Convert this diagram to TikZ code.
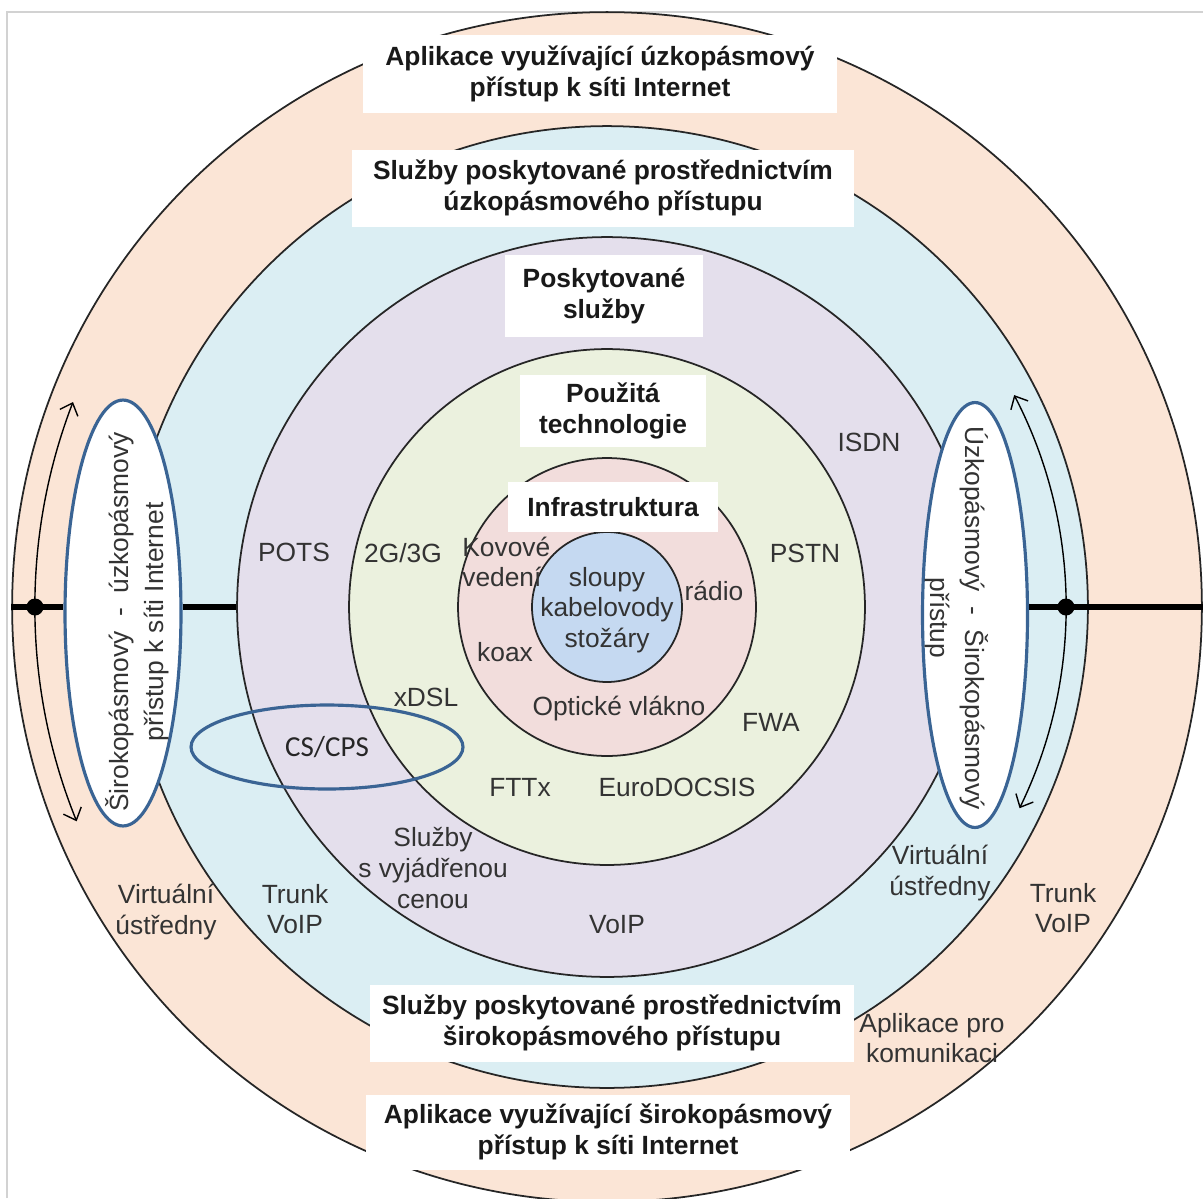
\documentclass[tikz,border=0pt]{standalone}
\usepackage{fontspec}
\setmainfont{Liberation Sans}
\newfontfamily\calibrifont{Carlito}
\usetikzlibrary{arrows.meta,shapes.geometric,positioning}

\definecolor{aplikace}{RGB}{251,229,214}
\definecolor{sluzby}{RGB}{219,238,243}
\definecolor{poskytovane}{RGB}{228,223,236}
\definecolor{technologie}{RGB}{235,241,222}
\definecolor{infra}{RGB}{242,221,220}
\definecolor{jadro}{RGB}{197,217,241}
\definecolor{okraj}{RGB}{58,100,148}

\begin{document}
\begin{tikzpicture}[
    x=0.02cm, y=-0.02cm,
    ring/.style={circle, draw=black!85, line width=1pt, inner sep=0pt},
    titulek/.style={rectangle, fill=white, inner sep=0pt, align=center, text=black!90, font=\bfseries\fontsize{15}{18}\selectfont},
    popis/.style={inner sep=0pt, align=center, text=black!80, font=\fontsize{15}{17.5}\selectfont},
    obal/.style={ellipse, draw=okraj, line width=1.8pt, inner sep=0pt},
    spoj/.style={line width=3pt},
    tecka/.style={circle, fill=black, inner sep=0pt, minimum size=0.34cm},
    sipka/.style={{Straight Barb[length=6pt,width=11pt]}-{Straight Barb[length=6pt,width=11pt]}, line width=0.8pt}
]
\useasboundingbox (0,0) rectangle (1203,1198);
\clip (0,0) rectangle (1203,1198);
\fill[white] (0,0) rectangle (1203,1198);
\draw[gray!35, line width=0.6pt] (7,1198) -- (7,12) -- (1203,12);

\coordinate (c) at (607,607);

% Kruhy
\node[ring, fill=aplikace, minimum size=23.8cm] (apl) at (c) {};
\node[ring, fill=sluzby, minimum size=19.24cm] (sluz) at (c) {};
\node[ring, fill=poskytovane, minimum size=14.8cm] (posk) at (c) {};
\node[ring, fill=technologie, minimum size=10.32cm] (tech) at (c) {};
\node[ring, fill=infra, minimum size=5.96cm] (infra) at (c) {};
\node[ring, fill=jadro, minimum size=3cm] (jadro) at (c) {};

% Titulky
\node[titulek, minimum width=9.5cm, minimum height=1.56cm] (t1) at (600,74) {Aplikace využívající úzkopásmový\\přístup k síti Internet};
\node[titulek, minimum width=10.06cm, minimum height=1.54cm] (t2) at (603,188) {Služby poskytované prostřednictvím\\úzkopásmového přístupu};
\node[titulek, minimum width=3.96cm, minimum height=1.64cm] (t3) at (604,296) {Poskytované\\služby};
\node[titulek, minimum width=3.74cm, minimum height=1.44cm] (t4) at (613,411) {Použitá\\technologie};
\node[titulek, minimum width=4.2cm, minimum height=1cm] (t5) at (613,507) {Infrastruktura};
\node[titulek, minimum width=9.7cm, minimum height=1.54cm] (t6) at (612,1023) {Služby poskytované prostřednictvím\\širokopásmového přístupu};
\node[titulek, minimum width=9.68cm, minimum height=1.5cm] (t7) at (608,1132) {Aplikace využívající širokopásmový\\přístup k síti Internet};

% Elipsy
\node[obal, fill=white, minimum width=2.32cm, minimum height=8.52cm] (lobal) at (123,613) {};
\node[obal, fill=white, minimum width=2.1cm, minimum height=8.5cm] (pobal) at (975,615) {};
\node[popis, rotate=90, font=\fontsize{15}{20}\selectfont] (ltext) at (137,622) {Širokopásmový~ - ~úzkopásmový\\přístup k síti Internet};
\node[popis, rotate=-90, font=\fontsize{15}{20}\selectfont] (ptext) at (957,618) {Úzkopásmový~ - ~Širokopásmový\\přístup};
\node[obal, minimum width=5.44cm, minimum height=1.68cm, text=black!85, font=\calibrifont\fontsize{16.5}{19}\selectfont] (cs) at (327,747) {CS/CPS};

% Spojnice
\draw[spoj] (apl.west) -- (apl.west -| lobal.west);
\draw[spoj] (apl.west -| lobal.east) -- (posk.west);
\draw[spoj] (pobal.east |- apl.east) -- (apl.east);
\node[tecka] (ltecka) at (35,607) {};
\node[tecka] (ptecka) at (1066,607) {};
\draw[sipka] ([shift={(158:572)}]c) arc[start angle=158, end angle=201, radius=572];
\draw[sipka] ([shift={(-27.5:459)}]c) arc[start angle=-27.5, end angle=26, radius=459];

% Popisky
\node[popis] (sloupy) at (607,610) {sloupy\\kabelovody\\stožáry};
\node[popis, align=left, anchor=west] (kovove) at (462,562) {Kovové\\vedení};
\node[popis] (radio) at (714,591) {rádio};
\node[popis] (koax) at (505,652) {koax};
\node[popis] (opticke) at (619,709) {Optické vlákno};
\node[popis] (gsm) at (403,553) {2G/3G};
\node[popis] (pstn) at (805,553) {PSTN};
\node[popis] (xdsl) at (426,697) {xDSL};
\node[popis] (fwa) at (771,722) {FWA};
\node[popis] (fttx) at (520,787) {FTTx};
\node[popis] (euro) at (677,787) {EuroDOCSIS};
\node[popis] (pots) at (294,552) {POTS};
\node[popis] (isdn) at (869,442) {ISDN};
\node[popis] (cena) at (433,868) {Služby\\s vyjádřenou\\cenou};
\node[popis] (voip) at (617,925) {VoIP};
\node[popis] (ltrunk) at (295,909) {Trunk\\VoIP};
\node[popis] (lvirt) at (166,912) {Virtuální\\ústředny};
\node[popis] (pvirt) at (940,873) {Virtuální\\ústředny};
\node[popis] (ptrunk) at (1063,908) {Trunk\\VoIP};
\node[popis] (komunikace) at (932,1038) {Aplikace pro\\komunikaci};
\end{tikzpicture}
\end{document}
